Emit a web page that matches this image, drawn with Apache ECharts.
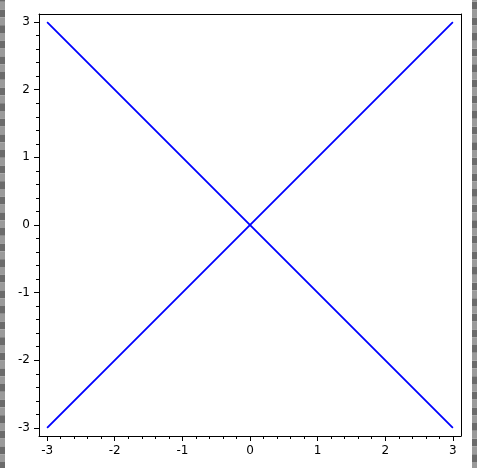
<!DOCTYPE html>
<html>
<head>
<meta charset="utf-8">
<script src="https://cdn.jsdelivr.net/npm/echarts@6/dist/echarts.min.js"></script>
<style>
html,body{margin:0;padding:0;background:#fff;}
#chart{width:477px;height:468px;}
</style>
</head>
<body>
<div id="chart"></div>
<script>
// Data
var lineX = [-3, 3];
var riseY = [-3, 3];
var fallY = [3, -3];
var majorTicks = [-3, -2, -1, 0, 1, 2, 3];
var majorLabels = ['-3', '-2', '-1', '0', '1', '2', '3'];
var minorTicks = [-2.8, -2.6, -2.4, -2.2, -1.8, -1.6, -1.4, -1.2, -0.8, -0.6, -0.4, -0.2,
                  0.2, 0.4, 0.6, 0.8, 1.2, 1.4, 1.6, 1.8, 2.2, 2.4, 2.6, 2.8];
var axisMin = -3.12, axisMax = 3.12;

var chart = echarts.init(document.getElementById('chart'), null, {renderer: 'canvas'});

function pairs(xs, ys) { return xs.map(function (x, i) { return [x, ys[i]]; }); }
function labelFor(v) { var i = majorTicks.indexOf(Math.round(v * 1000) / 1000); return i >= 0 ? majorLabels[i] : ''; }

var font = {fontFamily: 'DejaVu Sans', fontSize: 12, color: '#000'};

function mainAxis(pos) {
  return {
    type: 'value', position: pos, min: axisMin, max: axisMax, gridIndex: 0,
    axisLine: {show: true, onZero: false, lineStyle: {color: '#000', width: 1}},
    axisTick: {show: true, inside: false, length: 5, customValues: majorTicks, lineStyle: {color: '#000', width: 1}},
    axisLabel: Object.assign({show: true, margin: 9, customValues: majorTicks, formatter: labelFor}, font),
    splitLine: {show: false}, minorTick: {show: false}
  };
}
function minorAxis(pos) {
  return {
    type: 'value', position: pos, min: axisMin, max: axisMax, gridIndex: 0,
    axisLine: {show: false, onZero: false},
    axisTick: {show: true, inside: false, length: 3, customValues: minorTicks, lineStyle: {color: '#000', width: 1}},
    axisLabel: {show: false},
    splitLine: {show: false}
  };
}
function frameAxis(pos) {
  return {
    type: 'value', position: pos, min: axisMin, max: axisMax, gridIndex: 0,
    axisLine: {show: true, onZero: false, lineStyle: {color: '#000', width: 1}},
    axisTick: {show: false}, axisLabel: {show: false}, splitLine: {show: false}
  };
}

// checkered strips at the left and right edges
var strips = [];
for (var y = -6; y < 468; y += 15.6) {
  strips.push({type: 'rect', shape: {x: 0, y: y, width: 5, height: 7.8}, style: {fill: '#6b6b6b'}, silent: true});
  strips.push({type: 'rect', shape: {x: 0, y: y + 7.8, width: 5, height: 7.8}, style: {fill: '#9a9a9a'}, silent: true});
  strips.push({type: 'rect', shape: {x: 472, y: y + 7.8, width: 5, height: 7.8}, style: {fill: '#6b6b6b'}, silent: true});
  strips.push({type: 'rect', shape: {x: 472, y: y, width: 5, height: 7.8}, style: {fill: '#9a9a9a'}, silent: true});
}

chart.setOption({
  animation: false,
  backgroundColor: '#fff',
  grid: {left: 39, top: 14, width: 422, height: 422, show: false, containLabel: false},
  xAxis: [mainAxis('bottom'), minorAxis('bottom'), frameAxis('top')],
  yAxis: [mainAxis('left'), minorAxis('left'), frameAxis('right')],
  graphic: strips,
  series: [
    {type: 'line', xAxisIndex: 0, yAxisIndex: 0, data: pairs(lineX, riseY), showSymbol: false, symbol: 'none',
     lineStyle: {color: '#0000ff', width: 1.8}},
    {type: 'line', xAxisIndex: 0, yAxisIndex: 0, data: pairs(lineX, fallY), showSymbol: false, symbol: 'none',
     lineStyle: {color: '#0000ff', width: 1.8}}
  ]
});
</script>
</body>
</html>
